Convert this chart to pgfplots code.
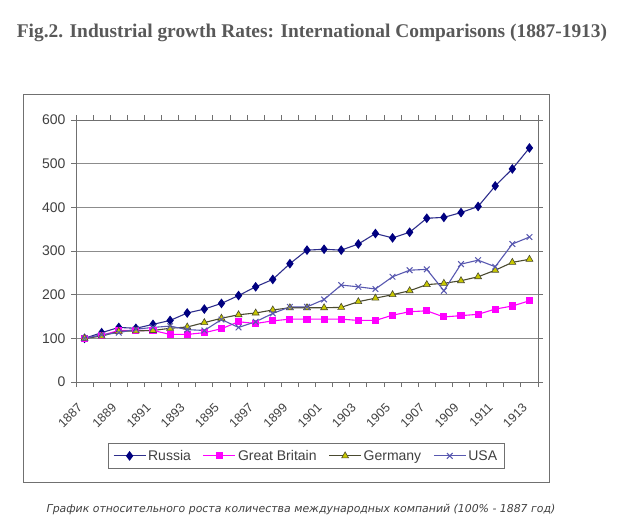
\documentclass[border=0pt]{standalone}
\usepackage{fontspec}
\setmainfont{Liberation Sans}
\newfontfamily\titlefont{Liberation Serif}
\newfontfamily\capfont{DejaVu Sans}
\usepackage{pgfplots}
\pgfplotsset{compat=1.18}
\definecolor{rus}{HTML}{000080}
\definecolor{rusline}{HTML}{2E2E8C}
\definecolor{gb}{HTML}{FF00FF}
\definecolor{gerfill}{HTML}{C8C800}
\definecolor{gerline}{HTML}{4A4A30}
\definecolor{usa}{HTML}{5858B0}
\definecolor{txt}{HTML}{404040}
\definecolor{frame}{HTML}{707070}
\pgfplotstableread{
year rus gb ger usa
1887 100 100 100 100
1888 113 107 105 108
1889 125 118 116 113
1890 123 118 117 121
1891 132 118 118 125
1892 141 109 123 128
1893 158 109 126 120
1894 167 113 136 118
1895 180 122 146 143
1896 198 138 154 125
1897 218 134 158 138
1898 235 140 165 157
1899 271 144 170 172
1900 302 144 170 172
1901 304 144 170 189
1902 302 144 171 222
1903 316 141 184 218
1904 340 141 192 213
1905 330 153 200 241
1906 343 161 209 256
1907 375 163 223 258
1908 377 149 226 209
1909 388 152 232 270
1910 402 155 241 279
1911 449 167 256 264
1912 488 174 274 316
1913 536 186 281 332
}\data
\begin{document}
\begin{tikzpicture}
\path[use as bounding box] (0,0) rectangle (640bp,-528bp);
\draw[frame, line width=1bp] (23bp,-94bp) rectangle (549bp,-482bp);
\node[font=\titlefont\bfseries\fontsize{19.4bp}{22bp}\selectfont, text=black!65] at (312bp,-33bp) {Fig.2. Industrial growth Rates: International Comparisons (1887-1913)};
\node[font=\capfont\itshape\fontsize{10.9bp}{12bp}\selectfont, text=txt] at (301bp,-509bp) {График относительного роста количества международных компаний (100\% - 1887 год)};
\begin{axis}[
  at={(76bp,-382bp)}, anchor=south west,
  scale only axis, width=462bp, height=262bp,
  xmin=1886.5, xmax=1913.5, ymin=0, ymax=600,
  axis line style={frame, line width=0.8bp},
  tick align=outside,
  ytick={0,100,...,600},
  yticklabels={0,100,200,300,400,500,600},
  xtick={1887,1889,...,1913},
  xticklabels={1887,1889,1891,1893,1895,1897,1899,1901,1903,1905,1907,1909,1911,1913},
  minor xtick={1886.5,1887.5,...,1913.5},
  major x tick style={draw=none},
  major tick length=5bp, minor tick length=5bp,
  every tick/.style={frame, line width=0.8bp},
  every minor tick/.style={frame, line width=0.8bp},
  ymajorgrids, grid style={gray!90, line width=0.9bp},
  tick label style={font=\fontsize{14bp}{16bp}\selectfont, text=txt},
  y tick label style={xshift=-2bp},
  x tick label style={font=\fontsize{12.5bp}{14bp}\selectfont, rotate=45, anchor=east, xshift=-13bp, yshift=-10bp},
  legend columns=4,
  legend style={at={(0.498,-0.282)}, anchor=center, draw=frame, line width=0.8bp,
    font=\fontsize{14bp}{16bp}\selectfont, text=txt, inner xsep=5bp, inner ysep=5bp,
    /tikz/every even column/.append style={column sep=10bp}},
  legend image code/.code={\draw[mark repeat=2,mark phase=2] plot coordinates {(0bp,0bp)(16bp,0bp)(32bp,0bp)};},
  clip=false,
]
\addplot[rusline, line width=1.1bp, mark=diamond*, mark size=4bp, mark options={fill=rus, draw=rus}] table[x=year,y=rus] {\data};
\addlegendentry{Russia}
\addplot[gb, line width=1.1bp, mark=square*, mark size=3bp, mark options={fill=gb, draw=gb}] table[x=year,y=gb] {\data};
\addlegendentry{Great Britain}
\addplot[gerline, line width=1.1bp, mark=triangle*, mark size=4bp, mark options={fill=gerfill, draw=gerline, line width=0.6bp}] table[x=year,y=ger] {\data};
\addlegendentry{Germany}
\addplot[usa, line width=1.1bp, mark=x, mark size=4bp, mark options={draw=usa, line width=1bp}] table[x=year,y=usa] {\data};
\addlegendentry{USA}
\end{axis}
\end{tikzpicture}
\end{document}
